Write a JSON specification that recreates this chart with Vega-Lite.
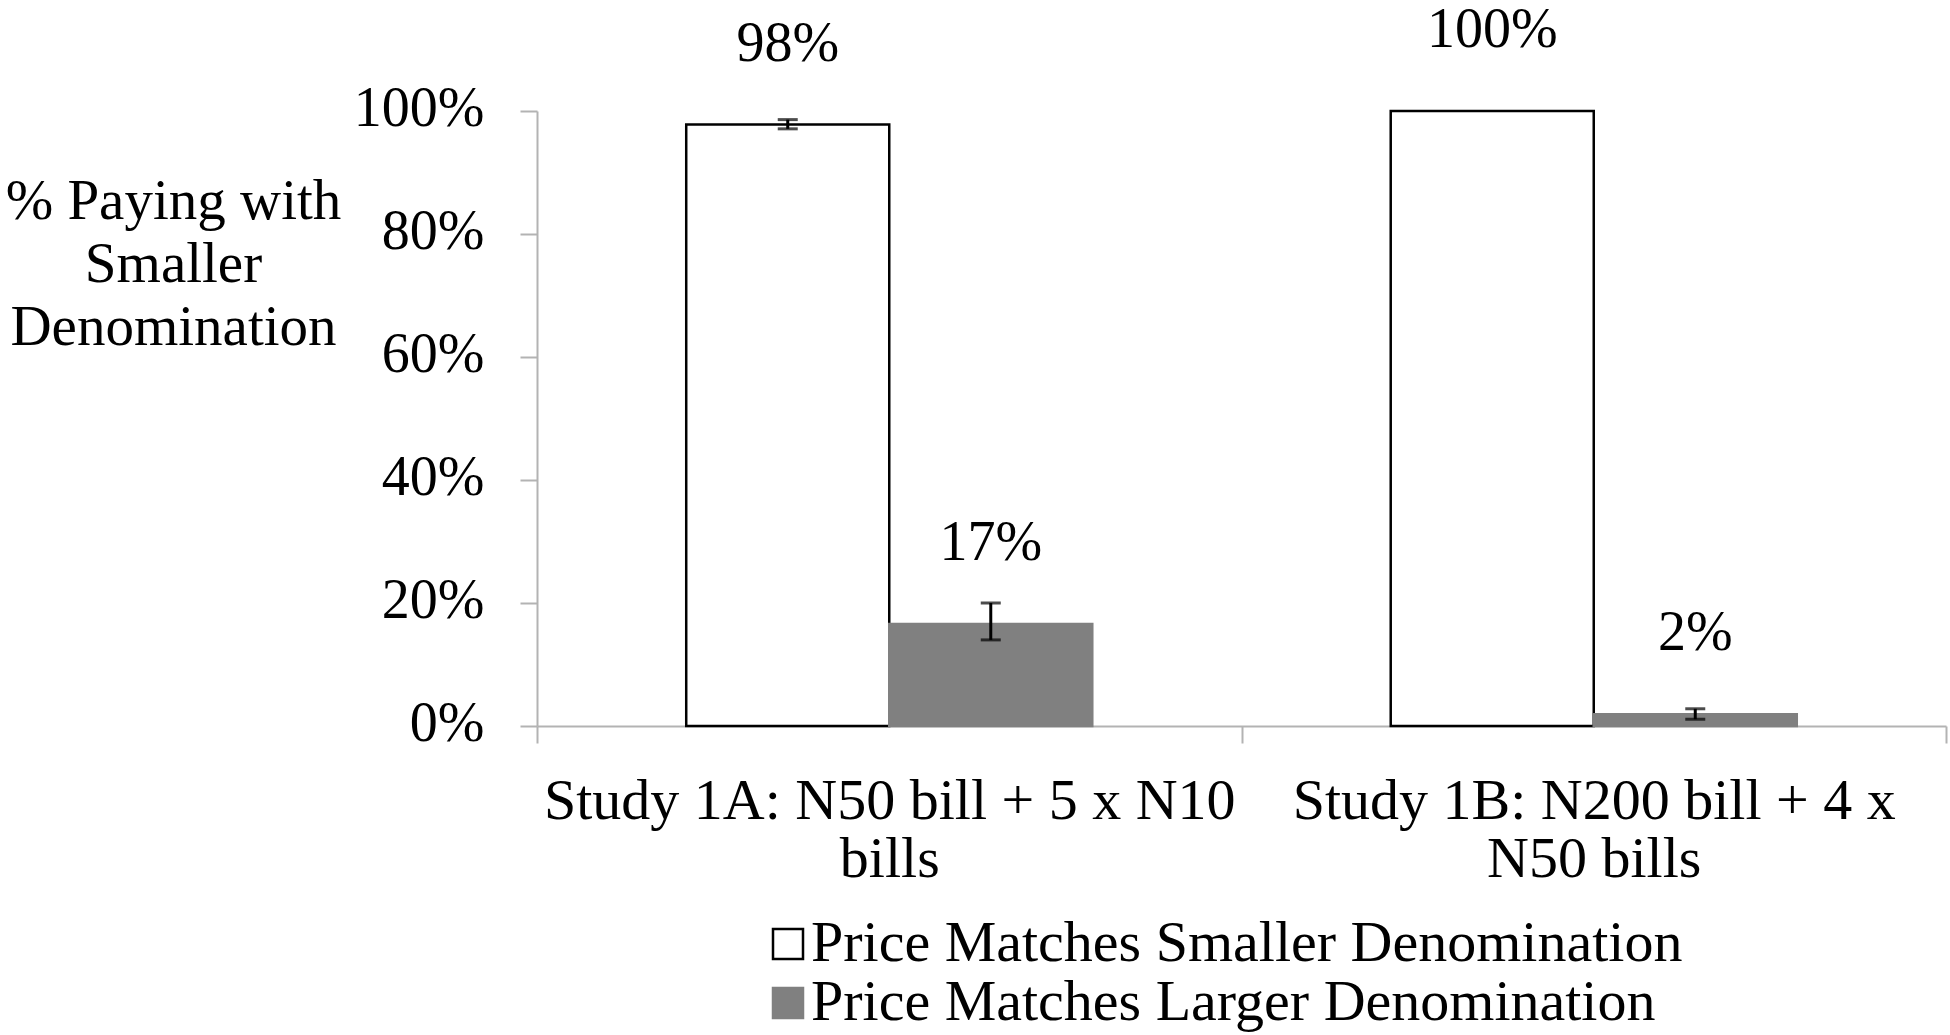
{
  "$schema": "https://vega.github.io/schema/vega-lite/v6.json",
  "width": 1409,
  "height": 615,
  "autosize": {"type": "none"},
  "padding": {"left": 537, "top": 111, "right": 4, "bottom": 309},
  "background": "white",
  "config": {
    "view": {"stroke": null},
    "font": "Liberation Serif",
    "text": {"font": "Liberation Serif"}
  },
  "data": {
    "values": [
      {"study": "Study 1A: N50 bill + 5 x N10 bills", "condition": "Price Matches Smaller Denomination", "value": 0.978, "lower": 0.971, "upper": 0.986, "label": "98%"},
      {"study": "Study 1A: N50 bill + 5 x N10 bills", "condition": "Price Matches Larger Denomination", "value": 0.166, "lower": 0.14, "upper": 0.2, "label": "17%"},
      {"study": "Study 1B: N200 bill + 4 x N50 bills", "condition": "Price Matches Smaller Denomination", "value": 1.0, "lower": null, "upper": null, "label": "100%"},
      {"study": "Study 1B: N200 bill + 4 x N50 bills", "condition": "Price Matches Larger Denomination", "value": 0.019, "lower": 0.011, "upper": 0.028, "label": "2%"}
    ]
  },
  "encoding": {
    "x": {
      "field": "study",
      "type": "nominal",
      "sort": null,
      "scale": {"paddingInner": 0, "paddingOuter": 0},
      "axis": {
        "title": null,
        "labelAngle": 0,
        "labelFont": "Liberation Serif",
        "labelFontSize": 58,
        "labelColor": "black",
        "labelLineHeight": 58,
        "labelPadding": 29,
        "labelLimit": 0,
        "labelExpr": "indexof(datum.label, '1A') >= 0 ? ['Study 1A: N50 bill + 5 x N10', 'bills'] : (indexof(datum.label, '1B') >= 0 ? ['Study 1B: N200 bill + 4 x', 'N50 bills'] : '')",
        "tickBand": "extent",
        "tickSize": 17,
        "tickColor": "#b3b3b3",
        "tickWidth": 2,
        "domainColor": "#b3b3b3",
        "domainWidth": 2,
        "grid": false
      }
    },
    "xOffset": {
      "field": "condition",
      "type": "nominal",
      "scale": {"domain": ["Price Matches Smaller Denomination", "Price Matches Larger Denomination"], "paddingInner": 0, "paddingOuter": 0.735}
    }
  },
  "layer": [
    {
      "mark": {"type": "bar", "strokeWidth": 2.5},
      "encoding": {
        "y": {
          "field": "value",
          "type": "quantitative",
          "scale": {"domain": [0, 1], "nice": false},
          "axis": {
            "values": [0, 0.2, 0.4, 0.6, 0.8, 1.0],
            "format": ".0%",
            "labelFont": "Liberation Serif",
            "labelFontSize": 56,
            "labelColor": "black",
            "labelPadding": 36,
            "labelOffset": -3,
            "tickSize": 17,
            "tickColor": "#b3b3b3",
            "tickWidth": 2,
            "domainColor": "#b3b3b3",
            "domainWidth": 2,
            "grid": false,
            "title": ["% Paying with", "Smaller", "Denomination"],
            "titleAngle": 0,
            "titleAlign": "center",
            "titleBaseline": "alphabetic",
            "titleX": -364,
            "titleY": 107,
            "titleFont": "Liberation Serif",
            "titleFontSize": 57,
            "titleFontWeight": "normal",
            "titleColor": "black",
            "titleLineHeight": 63
          }
        },
        "fill": {
          "field": "condition",
          "type": "nominal",
          "scale": {"domain": ["Price Matches Smaller Denomination", "Price Matches Larger Denomination"], "range": ["#ffffff", "#808080"]},
          "legend": {
            "title": null,
            "orient": "none",
            "legendX": 222,
            "legendY": 804,
            "direction": "vertical",
            "labelFont": "Liberation Serif",
            "labelFontSize": 58,
            "labelColor": "black",
            "labelLimit": 0,
            "labelOffset": -6,
            "symbolType": "square",
            "symbolSize": 900,
            "symbolStrokeWidth": 2.5,
            "rowPadding": 1
          }
        },
        "stroke": {
          "field": "condition",
          "type": "nominal",
          "scale": {"domain": ["Price Matches Smaller Denomination", "Price Matches Larger Denomination"], "range": ["#000000", "#808080"]},
          "legend": null
        }
      }
    },
    {
      "transform": [{"filter": "datum.lower != null"}],
      "mark": {"type": "rule", "color": "black", "strokeWidth": 3},
      "encoding": {
        "y": {"field": "lower", "type": "quantitative"},
        "y2": {"field": "upper"}
      }
    },
    {
      "transform": [{"filter": "datum.lower != null"}],
      "mark": {"type": "tick", "color": "black", "thickness": 3, "size": 20, "orient": "horizontal"},
      "encoding": {
        "y": {"field": "lower", "type": "quantitative"}
      }
    },
    {
      "transform": [{"filter": "datum.lower != null"}],
      "mark": {"type": "tick", "color": "black", "thickness": 3, "size": 20, "orient": "horizontal"},
      "encoding": {
        "y": {"field": "upper", "type": "quantitative"}
      }
    },
    {
      "mark": {"type": "text", "font": "Liberation Serif", "fontSize": 56, "color": "black", "baseline": "middle", "dy": -81},
      "encoding": {
        "y": {"field": "value", "type": "quantitative"},
        "text": {"field": "label"}
      }
    }
  ]
}
